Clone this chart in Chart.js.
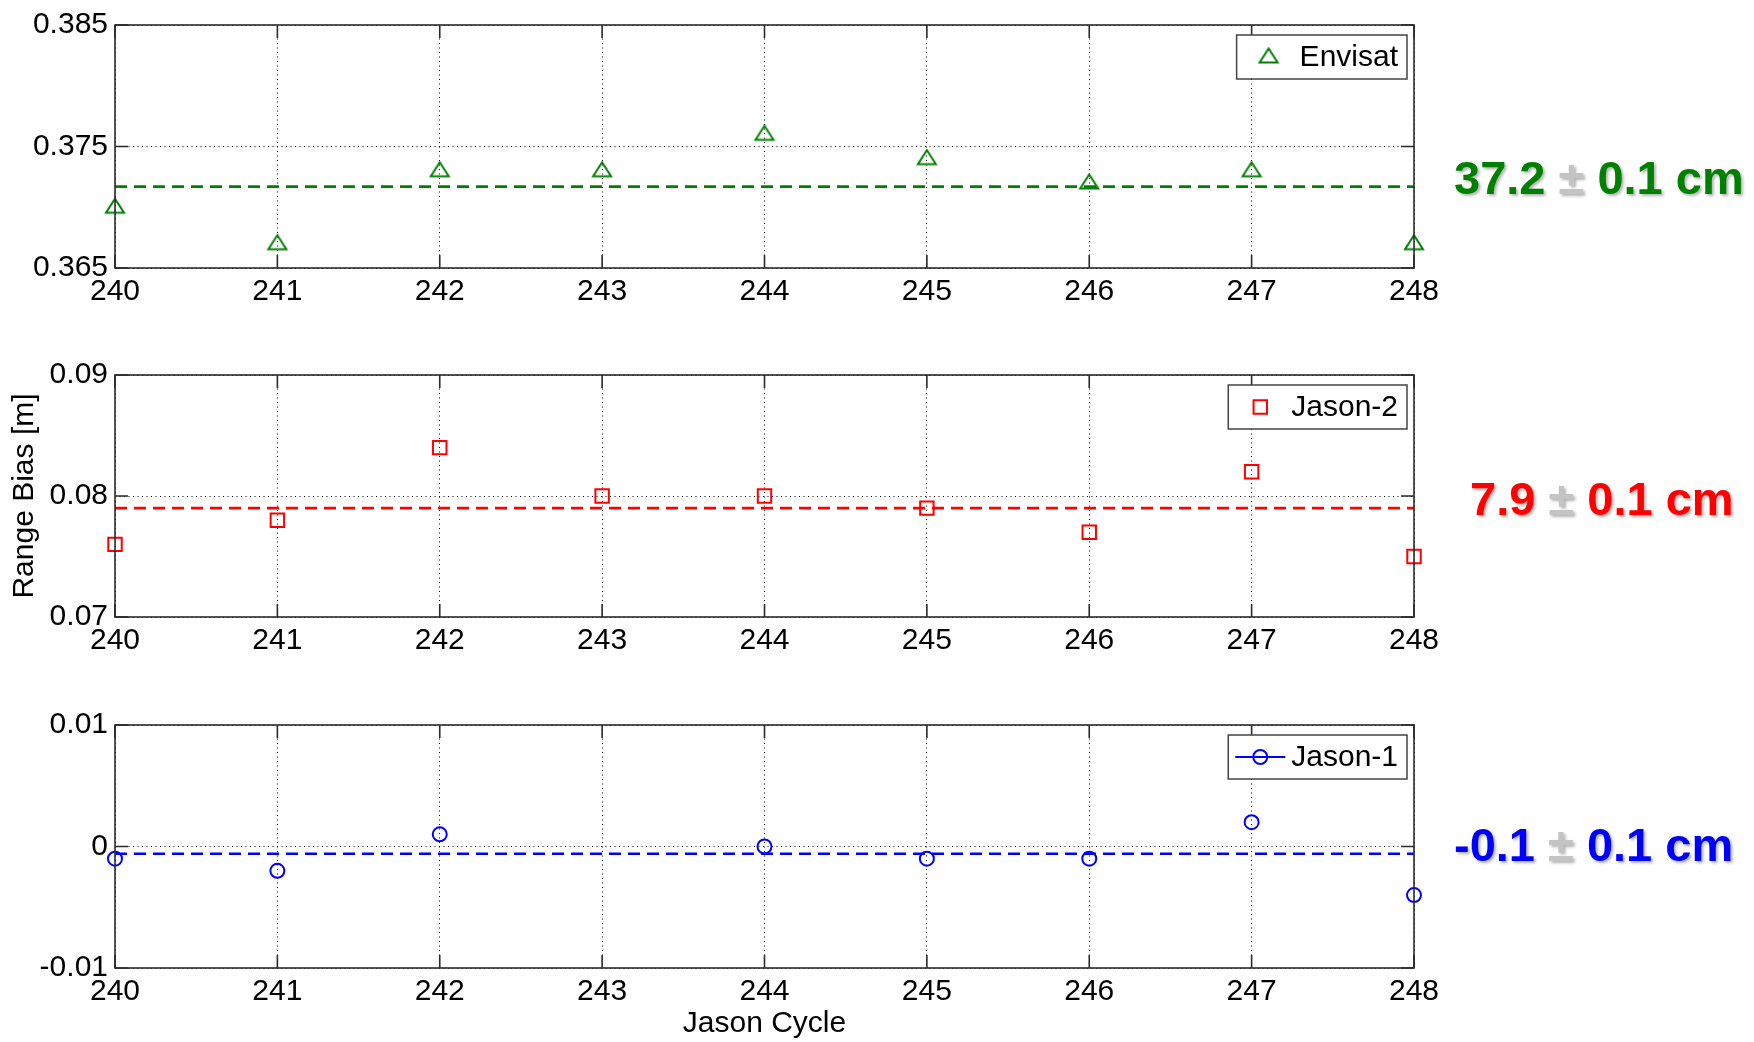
<!DOCTYPE html>
<html>
<head>
<meta charset="utf-8">
<script src="https://cdn.jsdelivr.net/npm/chart.js@4.4.0/dist/chart.umd.min.js"></script>
<style>
  body { margin: 0; background: #fff; }
  canvas { position: absolute; left: 0; }
</style>
</head>
<body>
<canvas id="p1" style="top:0px"></canvas>
<canvas id="p2" style="top:340px"></canvas>
<canvas id="p3" style="top:690px"></canvas>
<script>
// jason cycles on the x axis
const cycles = [240, 241, 242, 243, 244, 245, 246, 247, 248];

// range bias per cycle [m]
const envisat = [0.370, 0.367, 0.373, 0.373, 0.376, 0.374, 0.372, 0.373, 0.367];
const jason2 = [0.076, 0.078, 0.084, 0.080, 0.080, 0.079, 0.077, 0.082, 0.075];
const jason1 = [-0.001, -0.002, 0.001, null, 0.000, -0.001, -0.001, 0.002, -0.004];

// mean bias lines [m]
const envisatMean = 0.3717;
const jason2Mean = 0.0790;
const jason1Mean = -0.0006;

// y tick labels of each panel
const envisatTicks = [0.365, 0.375, 0.385];
const jason2Ticks = [0.07, 0.08, 0.09];
const jason1Ticks = [-0.01, 0, 0.01];

// mean +- error text at the right
const notes = ['37.2', '7.9', '-0.1'];
const noteError = '0.1 cm';

const FONT = "'Liberation Sans', Arial, Helvetica, sans-serif";
Chart.defaults.font.family = FONT;
Chart.defaults.font.size = 30;
Chart.defaults.color = '#000';

// matlab style '^' marker: a bit wider than tall, sits slightly high
function triangleImage(color) {
  const c = document.createElement('canvas');
  c.width = 24; c.height = 20;
  const g = c.getContext('2d');
  g.strokeStyle = color;
  g.lineWidth = 2;
  g.beginPath();
  g.moveTo(12, 1.5);
  g.lineTo(21, 15.5);
  g.lineTo(3, 15.5);
  g.closePath();
  g.stroke();
  return c;
}

function drawMarker(ctx, style, x, y, r) {
  if (style instanceof HTMLCanvasElement) {
    ctx.drawImage(style, x - style.width / 2, y - style.height / 2);
    return;
  }
  ctx.beginPath();
  if (style === 'rect') {
    const s = r * Math.SQRT1_2;
    ctx.rect(x - s, y - s, 2 * s, 2 * s);
  } else {
    ctx.arc(x, y, r, 0, Math.PI * 2);
  }
  ctx.stroke();
}

const panelDeco = {
  id: 'panelDeco',
  afterDraw(chart) {
    const o = chart.options.plugins.panelDeco;
    const ctx = chart.ctx;
    const a = chart.chartArea;
    const xs = chart.scales.x, ys = chart.scales.y;
    ctx.save();

    // frame and inward ticks
    ctx.strokeStyle = '#2b2b2b';
    ctx.lineWidth = 1.6;
    ctx.strokeRect(a.left, a.top, a.right - a.left, a.bottom - a.top);
    ctx.beginPath();
    cycles.forEach(v => {
      const px = xs.getPixelForValue(v);
      ctx.moveTo(px, a.bottom); ctx.lineTo(px, a.bottom - 13);
      ctx.moveTo(px, a.top); ctx.lineTo(px, a.top + 13);
    });
    o.ticks.forEach(v => {
      const py = ys.getPixelForValue(v);
      ctx.moveTo(a.left, py); ctx.lineTo(a.left + 13, py);
      ctx.moveTo(a.right, py); ctx.lineTo(a.right - 13, py);
    });
    ctx.stroke();

    // legend box
    ctx.font = '30px ' + FONT;
    const tw = ctx.measureText(o.label).width;
    const bw = 63 + tw + 9, bh = 44;
    const bx = a.right - 7 - bw, by = a.top + 10;
    ctx.fillStyle = '#fff';
    ctx.fillRect(bx, by, bw, bh);
    ctx.strokeStyle = '#444';
    ctx.lineWidth = 1.5;
    ctx.strokeRect(bx, by, bw, bh);
    ctx.strokeStyle = o.color;
    ctx.lineWidth = 2;
    const my = by + bh / 2;
    if (o.legendLine) {
      ctx.beginPath();
      ctx.moveTo(bx + 7, my); ctx.lineTo(bx + 57, my);
      ctx.stroke();
    }
    drawMarker(ctx, o.style, bx + 32, my, o.radius);
    ctx.fillStyle = '#000';
    ctx.textBaseline = 'middle';
    ctx.fillText(o.label, bx + 63, my + 1);

    // mean +- error note
    const ny = ys.getPixelForValue(o.mean) - 6;
    let nx = a.right + o.noteDx;
    ctx.font = 'bold 47px ' + FONT;
    ctx.shadowColor = 'rgba(0,0,0,0.3)';
    ctx.shadowOffsetX = 2;
    ctx.shadowOffsetY = 2;
    ctx.shadowBlur = 3;
    const parts = [[o.note + ' ', o.color], ['\u00b1', '#c4c4c4'], [' ' + noteError, o.color]];
    parts.forEach(([t, c]) => {
      ctx.fillStyle = c;
      ctx.fillText(t, nx, ny);
      nx += ctx.measureText(t).width;
    });
    ctx.restore();
  }
};

function makePanel(id, height, cfg) {
  const pts = cycles.map((c, i) => ({ x: c, y: cfg.values[i] })).filter(p => p.y !== null);
  const el = document.getElementById(id);
  el.width = 1754;
  el.height = height;
  new Chart(el, {
    type: 'scatter',
    data: {
      datasets: [
        {
          label: cfg.label,
          data: pts,
          pointStyle: cfg.style,
          pointRadius: cfg.radius,
          pointBorderWidth: 2,
          borderColor: cfg.color,
          backgroundColor: 'transparent',
          clip: false
        },
        {
          label: 'mean',
          data: [{ x: cycles[0], y: cfg.mean }, { x: cycles[cycles.length - 1], y: cfg.mean }],
          showLine: true,
          pointRadius: 0,
          borderColor: cfg.color,
          borderWidth: 2.6,
          borderDash: [12, 7]
        }
      ]
    },
    options: {
      responsive: false,
      animation: false,
      layout: { padding: { left: 0, right: 340, top: cfg.top, bottom: 0 } },
      plugins: {
        legend: { display: false },
        tooltip: { enabled: false },
        panelDeco: {
          label: cfg.label, color: cfg.color, style: cfg.style, radius: cfg.radius,
          ticks: cfg.ticks, mean: cfg.mean, note: cfg.note, noteDx: cfg.noteDx,
          legendLine: cfg.legendLine
        }
      },
      scales: {
        x: {
          type: 'linear',
          min: cycles[0],
          max: cycles[cycles.length - 1],
          afterBuildTicks: s => { s.ticks = cycles.map(v => ({ value: v })); },
          afterFit: s => { s.height = cfg.xh; },
          ticks: { padding: 6, callback: v => String(v) },
          grid: { color: '#000', lineWidth: 1, drawTicks: false },
          border: { display: false, dash: [1, 3.5] },
          title: { display: !!cfg.xTitle, text: cfg.xTitle, padding: { top: 2, bottom: 0 } }
        },
        y: {
          min: cfg.ticks[0],
          max: cfg.ticks[cfg.ticks.length - 1],
          afterBuildTicks: s => { s.ticks = cfg.ticks.map(v => ({ value: v })); },
          afterFit: s => { s.width = 115; },
          ticks: { padding: 7, callback: v => String(+v.toFixed(4)) },
          grid: { color: '#000', lineWidth: 1, drawTicks: false },
          border: { display: false, dash: [1, 3.5] },
          title: { display: !!cfg.yTitle, text: cfg.yTitle, padding: { top: 7, bottom: 0 } }
        }
      }
    },
    plugins: [panelDeco]
  });
}

makePanel('p1', 330, {
  label: 'Envisat', values: envisat, mean: envisatMean, ticks: envisatTicks,
  color: '#008000', style: triangleImage('#008000'), radius: 9, note: notes[0], noteDx: 40,
  top: 23, xh: 62
});
makePanel('p2', 330, {
  label: 'Jason-2', values: jason2, mean: jason2Mean, ticks: jason2Ticks,
  color: '#ff0000', style: 'rect', radius: 9.5, note: notes[1], noteDx: 56,
  top: 35, xh: 53, yTitle: 'Range Bias [m]'
});
makePanel('p3', 352, {
  label: 'Jason-1', values: jason1, mean: jason1Mean, ticks: jason1Ticks,
  color: '#0000ff', style: 'circle', radius: 7, note: notes[2], noteDx: 40,
  top: 35, xh: 74, xTitle: 'Jason Cycle', legendLine: true
});
</script>
</body>
</html>
